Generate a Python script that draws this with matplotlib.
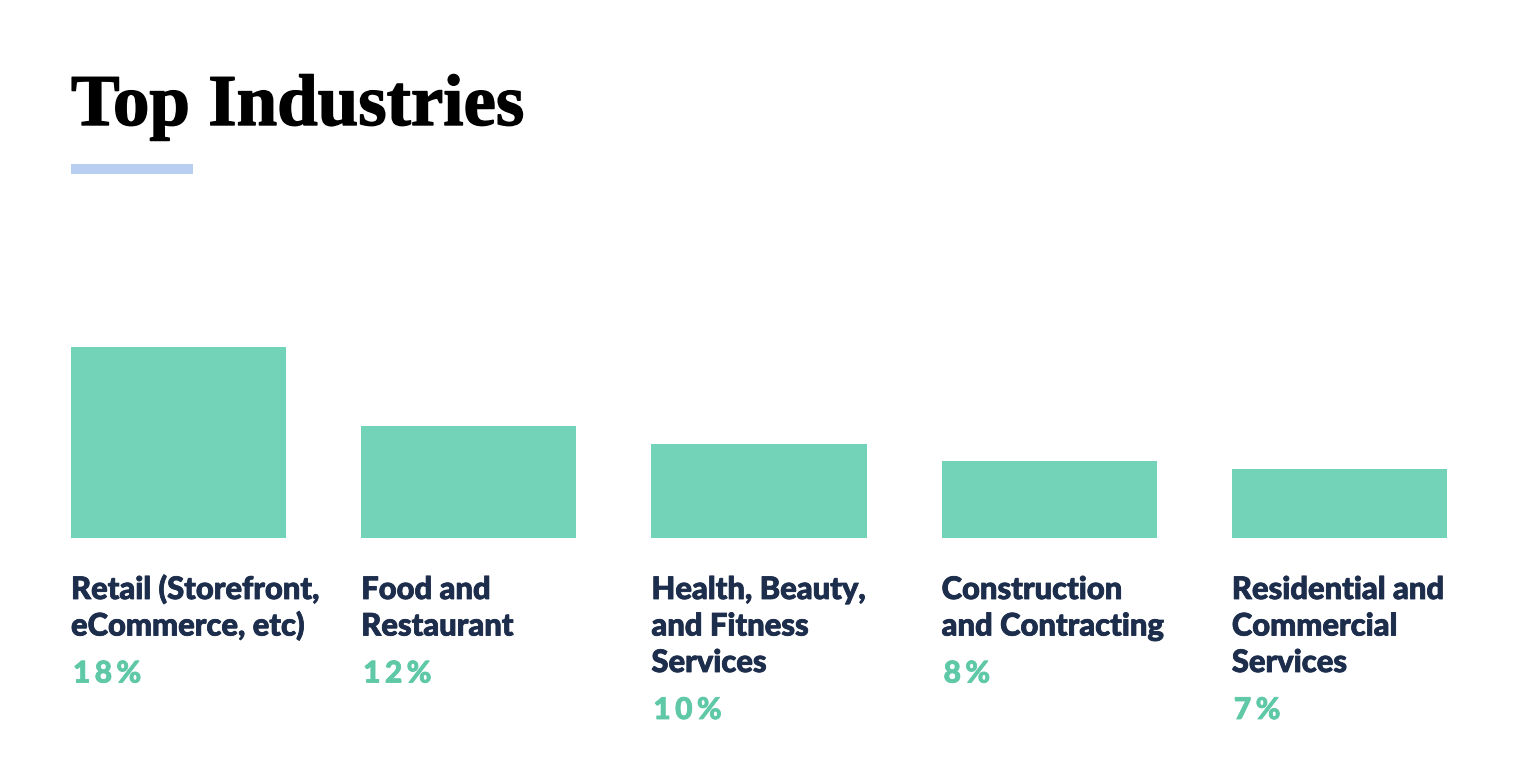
import matplotlib.pyplot as plt
from matplotlib.patches import Rectangle
import matplotlib.patheffects as pe

categories = [
    "Retail (Storefront,\neCommerce, etc)",
    "Food and\nRestaurant",
    "Health, Beauty,\nand Fitness\nServices",
    "Construction\nand Contracting",
    "Residential and\nCommercial\nServices",
]
bar_heights = [20.3, 11.9, 10.0, 8.2, 7.3]
pct_labels = ["18%", "12%", "10%", "8%", "7%"]

W, H = 1536, 774
BAR_COLOR = "#72d3b9"
PCT_COLOR = "#5fc9a7"
NAVY = "#1d2d4c"

fig = plt.figure(figsize=(W / 100, H / 100), dpi=100)
fig.patch.set_facecolor("white")


def fx(px):
    return px / W


def fy(py):
    return 1 - py / H


# bars: axes spans pixel x 71..1447, y 538 (bottom) .. 347 (top of tallest)
ax = fig.add_axes([fx(71), fy(538), fx(1447) - fx(71), (538 - 347) / H])
step, width = 290, 215
xs = [i * step for i in range(len(categories))]
ax.bar(xs, bar_heights, width=width, align="edge", color=BAR_COLOR)
ax.set_xlim(0, xs[-1] + width)
ax.set_ylim(0, max(bar_heights))
ax.axis("off")

# title and underline
fig.text(fx(71), fy(125), "Top Industries", fontsize=52.5, fontweight="bold",
         family="Liberation Serif", color="black", va="baseline",
         path_effects=[pe.withStroke(linewidth=1.0, foreground="black")])
fig.patches.append(Rectangle((fx(71), fy(174)), fx(193) - fx(71), (174 - 164) / H,
                             transform=fig.transFigure, color="#b9cff1", lw=0))

renderer = fig.canvas.get_renderer()
line_gap = 36.5
bold_navy = [pe.withStroke(linewidth=0.6, foreground=NAVY)]
bold_green = [pe.withStroke(linewidth=0.6, foreground=PCT_COLOR)]
for i, (cat, pct) in enumerate(zip(categories, pct_labels)):
    x0 = 71 + xs[i] * (1447 - 71) / (xs[-1] + width)
    lines = cat.split("\n")
    for j, line in enumerate(lines):
        fig.text(fx(x0), fy(599 + j * line_gap), line, fontsize=22.3,
                 fontweight="black", family="Lato", color=NAVY, va="baseline",
                 path_effects=bold_navy)
    # percentage with extra letter spacing
    base = 599 + (len(lines) - 1) * line_gap + 47
    cx = x0 + 2
    for ch in pct:
        t = fig.text(fx(cx), fy(base), ch, fontsize=21.5, fontweight="black",
                     family="Lato", color=PCT_COLOR, va="baseline",
                     path_effects=bold_green)
        cx += t.get_window_extent(renderer).width + 4.5

fig.savefig("out.png", dpi=100, facecolor="white")
